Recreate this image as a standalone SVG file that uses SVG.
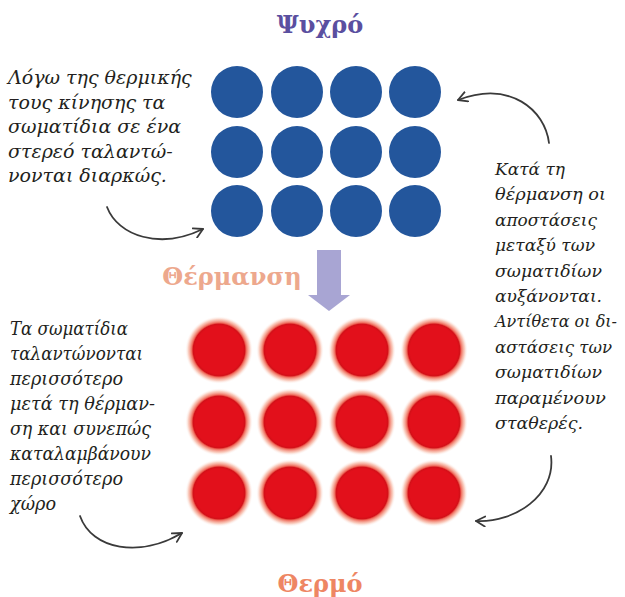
<svg xmlns="http://www.w3.org/2000/svg" width="625" height="597" viewBox="0 0 625 597">
<style>
.title{font-family:"DejaVu Serif","Liberation Serif",serif;font-weight:bold;font-size:24px;text-anchor:middle}
.note{font-family:"DejaVu Serif","Liberation Serif",serif;font-style:italic;font-size:19px;fill:#231f20}
.narrow{font-size:17px}
.blue{fill:#23569c}
.red{fill:url(#glow)}
.conn{fill:none;stroke:#3a3a3a;stroke-width:1.8;stroke-linecap:round}
</style>
<defs>
<radialGradient id="glow" cx="0.5" cy="0.5" r="0.5">
<stop offset="0" stop-color="#e2101b"/>
<stop offset="0.7" stop-color="#e2101b"/>
<stop offset="0.76" stop-color="#d31018"/>
<stop offset="0.8" stop-color="#ef6a5a"/>
<stop offset="0.9" stop-color="#f7b8a4" stop-opacity="0.7"/>
<stop offset="1" stop-color="#ffffff" stop-opacity="0"/>
</radialGradient>
<marker id="ah" viewBox="0 0 12 12" refX="10" refY="6" markerWidth="12" markerHeight="12" markerUnits="userSpaceOnUse" orient="auto">
<path d="M1,1 L10,6 L1,11" fill="none" stroke="#3a3a3a" stroke-width="1.8" stroke-linecap="round" stroke-linejoin="round"/>
</marker>
</defs>
<rect width="625" height="597" fill="#ffffff"/>

<g id="title-cold"><text class="title" x="320" y="33" fill="#5a4fa0">Ψυχρό</text></g>

<g id="cold-particles">
<circle class="blue" cx="237" cy="92" r="26"/><circle class="blue" cx="297" cy="92" r="26"/><circle class="blue" cx="356" cy="92" r="26"/><circle class="blue" cx="415" cy="92" r="26"/>
<circle class="blue" cx="237" cy="152" r="26"/><circle class="blue" cx="297" cy="152" r="26"/><circle class="blue" cx="356" cy="152" r="26"/><circle class="blue" cx="415" cy="152" r="26"/>
<circle class="blue" cx="237" cy="211" r="26"/><circle class="blue" cx="297" cy="211" r="26"/><circle class="blue" cx="356" cy="211" r="26"/><circle class="blue" cx="415" cy="211" r="26"/>
</g>

<g id="heating">
<text class="title" x="232" y="285" fill="#eda88d" font-size="23">Θέρμανση</text>
<polygon points="317,250 341,250 341,295 350,295 329,311 308,295 317,295" fill="#a8a5d3"/>
</g>

<g id="hot-particles">
<circle class="red" cx="219" cy="350" r="34"/><circle class="red" cx="290" cy="350" r="34"/><circle class="red" cx="362" cy="350" r="34"/><circle class="red" cx="434" cy="350" r="34"/>
<circle class="red" cx="219" cy="422" r="34"/><circle class="red" cx="290" cy="422" r="34"/><circle class="red" cx="362" cy="422" r="34"/><circle class="red" cx="434" cy="422" r="34"/>
<circle class="red" cx="219" cy="493" r="34"/><circle class="red" cx="290" cy="493" r="34"/><circle class="red" cx="362" cy="493" r="34"/><circle class="red" cx="434" cy="493" r="34"/>
</g>

<g id="title-hot"><text class="title" x="320" y="592" fill="#ee8663">Θερμό</text></g>

<g id="note-cold">
<text class="note" x="8" y="84">Λόγω της θερμικής</text>
<text class="note" x="8" y="108.5">τους κίνησης τα</text>
<text class="note" x="8" y="133">σωματίδια σε ένα</text>
<text class="note" x="8" y="157.5">στερεό ταλαντώ-</text>
<text class="note" x="8" y="182">νονται διαρκώς.</text>
</g>

<g id="note-heating">
<text class="note narrow" x="495" y="175" textLength="70" lengthAdjust="spacingAndGlyphs">Κατά τη</text>
<text class="note narrow" x="495" y="200.4" textLength="111" lengthAdjust="spacingAndGlyphs">θέρμανση οι</text>
<text class="note narrow" x="495" y="225.8" textLength="102" lengthAdjust="spacingAndGlyphs">αποστάσεις</text>
<text class="note narrow" x="495" y="251.2" textLength="100" lengthAdjust="spacingAndGlyphs">μεταξύ των</text>
<text class="note narrow" x="495" y="276.6" textLength="107" lengthAdjust="spacingAndGlyphs">σωματιδίων</text>
<text class="note narrow" x="495" y="302" textLength="107" lengthAdjust="spacingAndGlyphs">αυξάνονται.</text>
<text class="note narrow" x="495" y="327.4" textLength="122" lengthAdjust="spacingAndGlyphs">Αντίθετα οι δι-</text>
<text class="note narrow" x="495" y="352.8" textLength="117" lengthAdjust="spacingAndGlyphs">αστάσεις των</text>
<text class="note narrow" x="495" y="378.2" textLength="107" lengthAdjust="spacingAndGlyphs">σωματιδίων</text>
<text class="note narrow" x="495" y="403.6" textLength="111" lengthAdjust="spacingAndGlyphs">παραμένουν</text>
<text class="note narrow" x="495" y="429" textLength="88" lengthAdjust="spacingAndGlyphs">σταθερές.</text>
</g>

<g id="note-hot">
<text class="note" x="10" y="335" textLength="118" lengthAdjust="spacingAndGlyphs">Τα σωματίδια</text>
<text class="note" x="10" y="360" textLength="133" lengthAdjust="spacingAndGlyphs">ταλαντώνονται</text>
<text class="note" x="10" y="385" textLength="113" lengthAdjust="spacingAndGlyphs">περισσότερο</text>
<text class="note" x="10" y="410" textLength="145" lengthAdjust="spacingAndGlyphs">μετά τη θέρμαν-</text>
<text class="note" x="10" y="435" textLength="141" lengthAdjust="spacingAndGlyphs">ση και συνεπώς</text>
<text class="note" x="10" y="460" textLength="141" lengthAdjust="spacingAndGlyphs">καταλαμβάνουν</text>
<text class="note" x="10" y="485" textLength="113" lengthAdjust="spacingAndGlyphs">περισσότερο</text>
<text class="note" x="10" y="510" textLength="46" lengthAdjust="spacingAndGlyphs">χώρο</text>
</g>

<g id="connectors">
<path class="conn" d="M107,207 C118,236 160,250 203,229" marker-end="url(#ah)"/>
<path class="conn" d="M549,143 C545,110 510,80 458,100" marker-end="url(#ah)"/>
<path class="conn" d="M551,456 C556,495 515,523 476,521" marker-end="url(#ah)"/>
<path class="conn" d="M80,516 C92,550 140,558 182,533" marker-end="url(#ah)"/>
</g>
</svg>
